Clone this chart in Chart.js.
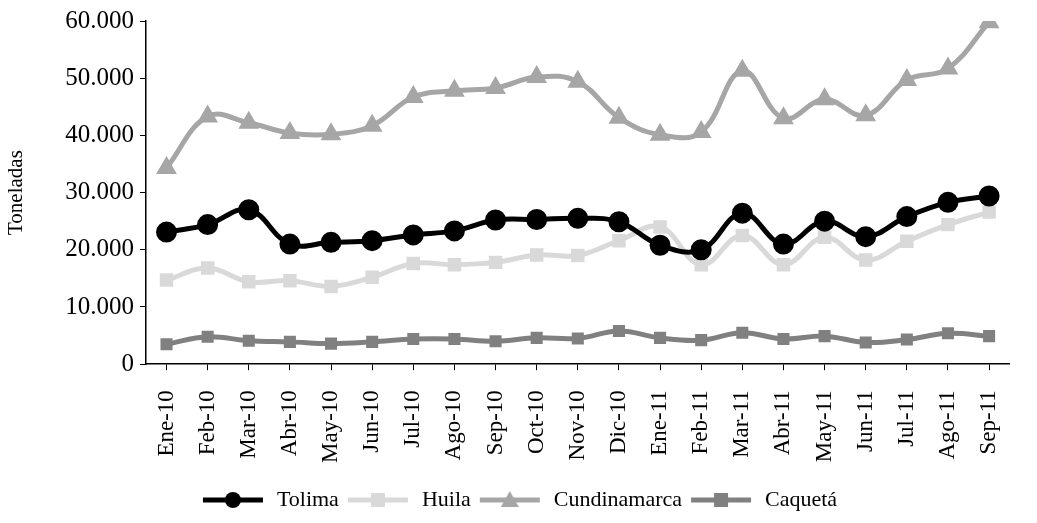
<!DOCTYPE html>
<html>
<head>
<meta charset="utf-8">
<script src="https://cdn.jsdelivr.net/npm/chart.js@4"></script>
<style>
  body { margin: 0; background: #fff; }
  #wrap { width: 1037px; height: 523px; }
</style>
</head>
<body>
<div id="wrap"><canvas id="chart"></canvas></div>
<script>
// categorias y series (toneladas)
const months = ["Ene-10","Feb-10","Mar-10","Abr-10","May-10","Jun-10","Jul-10","Ago-10","Sep-10","Oct-10","Nov-10","Dic-10",
  "Ene-11","Feb-11","Mar-11","Abr-11","May-11","Jun-11","Jul-11","Ago-11","Sep-11"];
const tolima = [23100,24400,27000,21000,21300,21600,22600,23300,25200,25300,25500,24900,20800,20000,26400,21000,25000,22300,25800,28300,29400];
const huila = [14700,16800,14400,14600,13600,15200,17600,17400,17800,19100,19000,21600,24000,17400,22500,17400,22200,18200,21500,24400,26600];
const cundinamarca = [34300,43300,42200,40400,40200,41700,46700,47800,48300,50200,49400,43100,40100,40600,51300,43000,46300,43500,49700,51700,59800];
const caqueta = [3500,4800,4100,3900,3600,3900,4400,4400,4000,4600,4500,5800,4600,4200,5500,4400,4900,3800,4300,5400,4900];

const font = { family: "'Liberation Serif', 'Times New Roman', serif", size: 26 };

// icono de leyenda: linea con marcador en el centro
function legendIcon(color, style) {
  const c = document.createElement('canvas');
  c.width = 64; c.height = 20;
  const g = c.getContext('2d');
  g.strokeStyle = color; g.fillStyle = color; g.lineWidth = 5;
  g.beginPath(); g.moveTo(2, 10); g.lineTo(62, 10); g.stroke();
  g.beginPath();
  if (style === 'circle') g.arc(32, 10, 8, 0, Math.PI * 2);
  else if (style === 'triangle') { g.moveTo(32, 1); g.lineTo(41, 17); g.lineTo(23, 17); g.closePath(); }
  else g.rect(25, 3, 14, 14);
  g.fill();
  return c;
}

function serie(label, data, color, style, radius) {
  return {
    label, data,
    borderColor: color, backgroundColor: color,
    borderWidth: 5, tension: 0.4,
    pointStyle: style, pointRadius: radius,
    pointBorderColor: color, pointBackgroundColor: color,
    icon: legendIcon(color, style)
  };
}

new Chart(document.getElementById('chart'), {
  type: 'line',
  data: {
    labels: months,
    datasets: [
      serie('Tolima', tolima, '#000000', 'circle', 8),
      serie('Huila', huila, '#d9d9d9', 'rect', 6),
      serie('Cundinamarca', cundinamarca, '#a6a6a6', 'triangle', 7),
      serie('Caquetá', caqueta, '#808080', 'rect', 5)
    ]
  },
  options: {
    responsive: true,
    maintainAspectRatio: false,
    animation: false,
    layout: { padding: { top: 3, right: 0, left: 0, bottom: 2 } },
    plugins: {
      legend: {
        position: 'bottom',
        labels: {
          font: { ...font, size: 22 }, color: '#000', usePointStyle: true, pointStyleWidth: 66, boxHeight: 20, padding: 6,
          generateLabels: chart => chart.data.datasets.map((d, i) => ({
            text: d.label, pointStyle: d.icon, fontColor: '#000',
            strokeStyle: d.borderColor, fillStyle: d.borderColor, lineWidth: 0, datasetIndex: i
          }))
        }
      },
      tooltip: { enabled: false }
    },
    scales: {
      x: {
        offset: true,
        grid: { display: true, drawOnChartArea: false, color: '#000', tickLength: 6 },
        border: { color: '#000', width: 1.5 },
        ticks: { font: { ...font, size: 23 }, color: '#000', maxRotation: 90, minRotation: 90, autoSkip: false, padding: 20 }
      },
      y: {
        min: 0, max: 60000,
        grid: { display: true, drawOnChartArea: false, color: '#000', tickLength: 6 },
        border: { color: '#000', width: 1.5 },
        title: { display: true, text: 'Toneladas', font: { ...font, size: 21 }, color: '#000', padding: { bottom: 30 } },
        ticks: {
          stepSize: 10000, font: { ...font, size: 25 }, color: '#000', padding: 6,
          callback: v => v === 0 ? '0' : v.toLocaleString('de-DE')
        }
      }
    }
  }
});
</script>
</body>
</html>
